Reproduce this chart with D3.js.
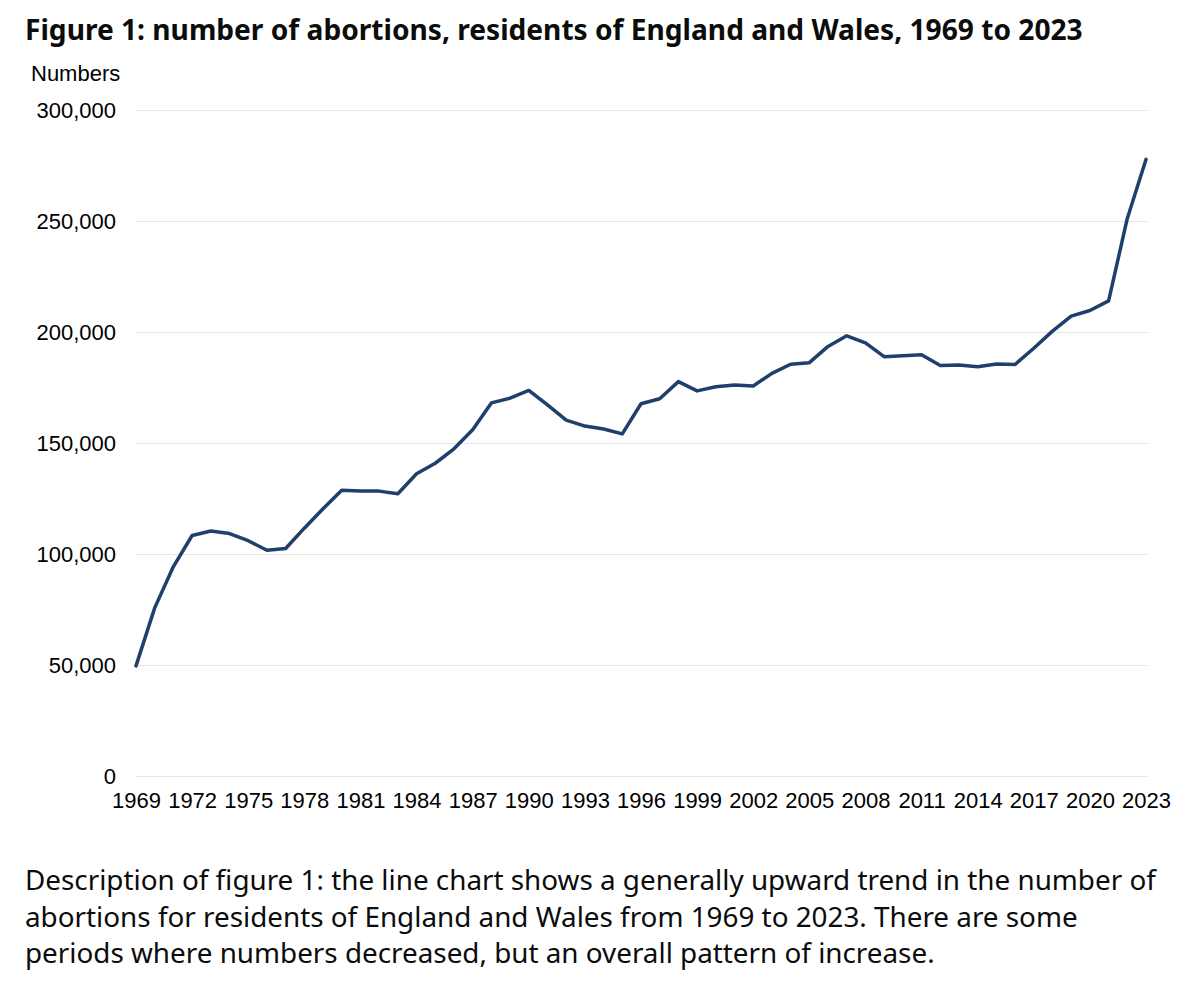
<!DOCTYPE html>
<html>
<head>
<meta charset="utf-8">
<script src="https://cdn.jsdelivr.net/npm/d3@7"></script>
<style>
  html, body { margin: 0; padding: 0; background: #fff; }
  svg { display: block; }
</style>
</head>
<body>
<svg id="chart" width="1200" height="1002"></svg>
<script>
const years = d3.range(1969, 2024);
const abortions = [
  49829, 75962, 94570, 108565, 110568, 109445, 106224, 101912, 102677, 111851,
  120611, 128927, 128581, 128553, 127375, 136388, 141101, 147619, 156191, 168298,
  170463, 173900, 167376, 160501, 157846, 156539, 154315, 167916, 170145, 177871,
  173701, 175542, 176364, 175932, 181582, 185713, 186416, 193737, 198499, 195296,
  189100, 189574, 189931, 185122, 185331, 184571, 185824, 185596, 192900, 200608,
  207384, 209917, 214256, 251377, 277970
];
const yTicks = [0, 50000, 100000, 150000, 200000, 250000, 300000];
const xTicks = d3.range(1969, 2024, 3);
const titleText = "Figure 1: number of abortions, residents of England and Wales, 1969 to 2023";
const unitText = "Numbers";
const descLines = [
  "Description of figure 1: the line chart shows a generally upward trend in the number of",
  "abortions for residents of England and Wales from 1969 to 2023. There are some",
  "periods where numbers decreased, but an overall pattern of increase."
];

const svg = d3.select("#chart");
const axisFont = "'Liberation Sans', Arial, sans-serif";
const textFont = "'Noto Sans', sans-serif";
const axisSize = 22;

const x = d3.scaleLinear().domain([1969, 2023]).range([136, 1146]);
const y = d3.scaleLinear().domain([0, 300000]).range([776.5, 110.5]);

// Title (fit to width)
const title = svg.append("text")
  .attr("x", 25).attr("y", 40)
  .attr("font-family", textFont).attr("font-weight", 700)
  .attr("font-size", 28).attr("fill", "#0b0c0c")
  .text(titleText);
{
  const w = title.node().getComputedTextLength();
  title.attr("font-size", 28 * 1058 / w);
}

svg.append("text")
  .attr("x", 31).attr("y", 81)
  .attr("font-family", axisFont).attr("font-size", axisSize).attr("fill", "#000")
  .text(unitText);

// Gridlines
svg.append("g").selectAll("line").data(yTicks).join("line")
  .attr("x1", x(1969)).attr("x2", 1148)
  .attr("y1", d => y(d)).attr("y2", d => y(d))
  .attr("stroke", "#e6e6e6").attr("stroke-width", 1);

// Y axis
const yAxis = svg.append("g")
  .attr("transform", "translate(116,0)")
  .call(d3.axisLeft(y).tickValues(yTicks).tickSize(0).tickPadding(0)
    .tickFormat(d3.format(",")));
yAxis.select(".domain").remove();
yAxis.selectAll("text")
  .attr("font-family", axisFont).attr("font-size", axisSize).attr("fill", "#000");

// X axis
const xAxis = svg.append("g")
  .attr("transform", "translate(0,792)")
  .call(d3.axisBottom(x).tickValues(xTicks).tickSize(0).tickPadding(0)
    .tickFormat(d3.format("d")));
xAxis.select(".domain").remove();
xAxis.selectAll("text")
  .attr("font-family", axisFont).attr("font-size", axisSize).attr("fill", "#000");

// Line
const line = d3.line().x((d, i) => x(years[i])).y(d => y(d));
svg.append("path")
  .datum(abortions)
  .attr("d", line)
  .attr("fill", "none")
  .attr("stroke", "#1f3f6c")
  .attr("stroke-width", 3.5)
  .attr("stroke-linejoin", "round")
  .attr("stroke-linecap", "round");

// Description
const desc = svg.append("text")
  .attr("font-family", textFont).attr("font-size", 28).attr("fill", "#0b0c0c");
desc.selectAll("tspan").data(descLines).join("tspan")
  .attr("x", 25).attr("y", (d, i) => 890 + i * 36.5)
  .text(d => d);
{
  const w = desc.select("tspan").node().getComputedTextLength();
  desc.attr("font-size", 28 * 1131 / w);
}
</script>
</body>
</html>
